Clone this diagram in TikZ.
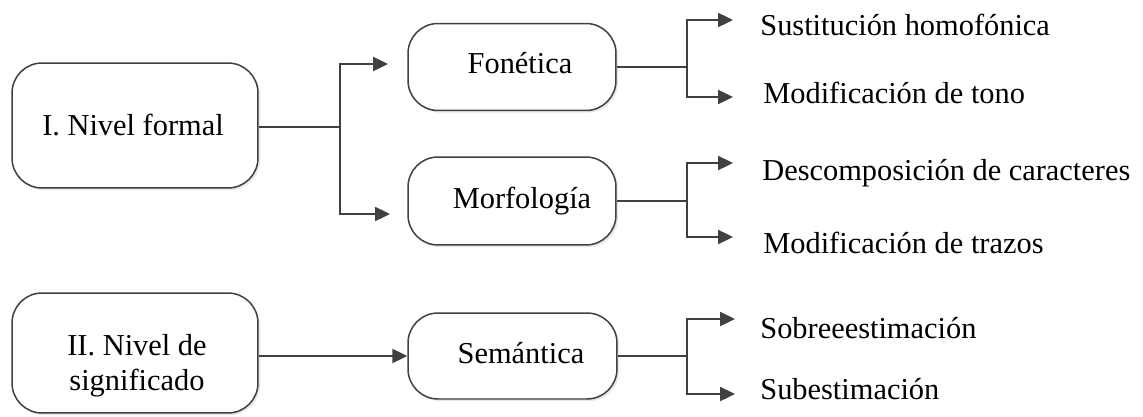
\documentclass[tikz,border=0pt]{standalone}
\usepackage{fontspec}
\setmainfont{Liberation Serif}
\usetikzlibrary{arrows.meta,shadows}

\definecolor{ink}{HTML}{404040}

\begin{document}
\begin{tikzpicture}[
  x=0.02cm, y=-0.02cm,
  every node/.style={font=\fontsize{17.3}{19.8}\selectfont, inner sep=0pt},
  box/.style={draw=ink, line width=0.85pt, rounded corners=0.6cm, fill=white,
    drop shadow={opacity=0.18, shadow xshift=1.2pt, shadow yshift=-1.2pt}},
  link/.style={draw=ink, line width=1.1pt},
  arr/.style={link, -{Triangle[length=8.5pt,width=8pt]}},
  leaf/.style={anchor=base west},
  tag/.style={anchor=base}
]
\useasboundingbox (0,0) rectangle (1143,416);

% level boxes
\node[box, minimum width=4.92cm, minimum height=2.50cm] (nf) at (135,125.5) {};
\node[tag] (nftxt) at (133,135) {I. Nivel formal};
\node[box, minimum width=4.92cm, minimum height=2.40cm] (ns) at (135,353) {};
\node[tag, align=center] (nstxt) at (137,390) {II. Nivel de\\significado};

% category boxes
\node[box, minimum width=4.16cm, minimum height=1.74cm] (fon) at (512,67) {};
\node[tag] (fontxt) at (520,73) {Fonética};
\node[box, minimum width=4.16cm, minimum height=1.76cm] (mor) at (512,201) {};
\node[tag] (mortxt) at (522,208) {Morfología};
\node[box, minimum width=4.18cm, minimum height=1.72cm] (sem) at (512.5,356) {};
\node[tag] (semtxt) at (521,363) {Semántica};

% leaf labels
\node[leaf] (l1) at (760,35)  {Sustitución homofónica};
\node[leaf] (l2) at (763,103) {Modificación de tono};
\node[leaf] (l3) at (762,180) {Descomposición de caracteres};
\node[leaf] (l4) at (763,253) {Modificación de trazos};
\node[leaf] (l5) at (760,338) {Sobreeestimación};
\node[leaf] (l6) at (760,399) {Subestimación};

% fork points and arrow ends
\coordinate (nffork) at (340,127);
\coordinate (nfa) at (388,64);
\coordinate (nfb) at (390,214);
\coordinate (fonfork) at (687,67);
\coordinate (fa) at (733,20);
\coordinate (fb) at (733,97);
\coordinate (morfork) at (687,201);
\coordinate (ma) at (733,163);
\coordinate (mb) at (733,237);
\coordinate (semfork) at (687,356);
\coordinate (sa) at (735,319);
\coordinate (sb) at (735,394);

% connectors
\draw[link] (nf.east |- nffork) -- (nffork);
\draw[arr] (nffork) |- (nfa);
\draw[arr] (nffork) |- (nfb);

\draw[arr] (ns.east |- sem.west) -- (sem.west);

\draw[link] (fon.east) -- (fonfork);
\draw[arr] (fonfork) |- (fa);
\draw[arr] (fonfork) |- (fb);

\draw[link] (mor.east) -- (morfork);
\draw[arr] (morfork) |- (ma);
\draw[arr] (morfork) |- (mb);

\draw[link] (sem.east) -- (semfork);
\draw[arr] (semfork) |- (sa);
\draw[arr] (semfork) |- (sb);
\end{tikzpicture}
\end{document}
